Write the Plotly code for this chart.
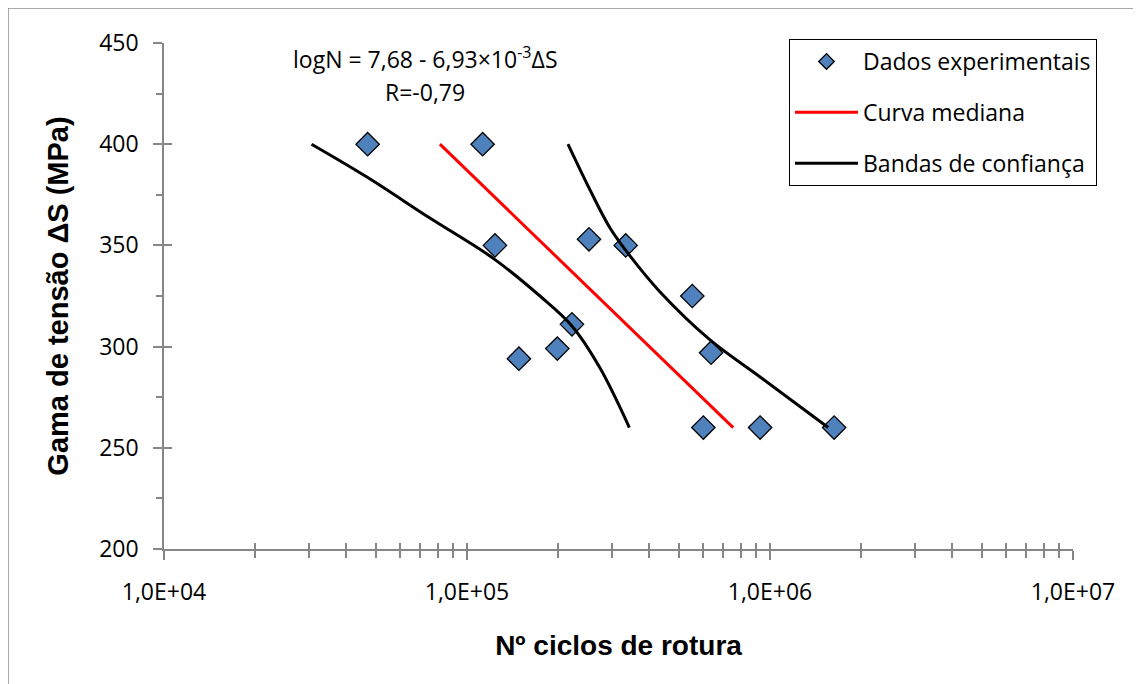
import plotly.graph_objects as go

# ---------------- data ----------------
N_exp = [47000, 112600, 123700, 148400, 198600, 222000, 252700, 334100,
         554000, 639000, 602600, 927500, 1628000]
S_exp = [400, 400, 350, 294, 299, 311, 353, 350, 325, 297, 260, 260, 260]

N_median = [81400, 756000]
S_median = [400, 260]

N_band_low = [30680, 46610, 75430, 122050, 174100, 222000, 274800, 343400]
S_band_low = [400, 383.9, 363.5, 343.6, 325, 310.2, 289.4, 260]

N_band_high = [215400, 254600, 296500, 345100, 433700, 634200, 927500, 1556000]
S_band_high = [400, 377.4, 358.6, 344.8, 327, 303.3, 285, 260]

x_tickvals = [1e4, 1e5, 1e6, 1e7]
x_ticktext = ["1,0E+04", "1,0E+05", "1,0E+06", "1,0E+07"]
y_tickvals = [200, 250, 300, 350, 400, 450]

equation_text = "logN = 7,68 - 6,93×10<sup>-3</sup>ΔS"
r_text = "R=-0,79"

# ---------------- layout constants ----------------
OFF = 8                      # default body margin of the html page
W, H = 1141 - OFF, 684 - OFF
ML, MR, MT, MB = 164 - OFF, 68, 43 - OFF, 135
PW, PH = W - ML - MR, H - MT - MB

REG = "Open Sans, DejaVu Sans, sans-serif"
BOLD = "Liberation Sans, Arial, sans-serif"
AX = "#868686"


def px_x(p):                 # page pixel -> paper fraction
    return (p - OFF - ML) / PW


def px_y(p):
    return (H - MB - (p - OFF)) / PH


fig = go.Figure()

fig.add_trace(go.Scatter(
    x=N_exp, y=S_exp, mode="markers", name="Dados experimentais",
    legendgroup="a", showlegend=False,
    marker=dict(symbol="diamond", size=18, color="#4F81BD",
                line=dict(color="black", width=1.3)),
))
# legend proxy with the smaller legend symbol
fig.add_trace(go.Scatter(
    x=[None], y=[None], mode="markers", name="Dados experimentais",
    legendgroup="a", hoverinfo="skip",
    marker=dict(symbol="diamond", size=12, color="#4F81BD",
                line=dict(color="black", width=1.3)),
))
fig.add_trace(go.Scatter(
    x=N_median, y=S_median, mode="lines", name="Curva mediana",
    legendgroup="b",
    line=dict(color="#FF0000", width=3),
))
fig.add_trace(go.Scatter(
    x=N_band_low, y=S_band_low, mode="lines", name="Bandas de confiança",
    legendgroup="c",
    line=dict(color="black", width=3, shape="spline"),
))
fig.add_trace(go.Scatter(
    x=N_band_high, y=S_band_high, mode="lines", name="Bandas de confiança",
    legendgroup="c", showlegend=False,
    line=dict(color="black", width=3, shape="spline"),
))
# empty trace to activate the overlay axes (inner half of crossing ticks)
fig.add_trace(go.Scatter(x=[None], y=[None], xaxis="x2", yaxis="y2",
                         showlegend=False, hoverinfo="skip"))

fig.update_layout(
    width=W, height=H,
    margin=dict(l=ML, r=MR, t=MT, b=MB, autoexpand=False),
    paper_bgcolor="white", plot_bgcolor="white",
    font=dict(family=REG, size=23, color="black"),
    showlegend=True,
    legend=dict(
        x=px_x(789), y=px_y(39), xanchor="left", yanchor="top",
        bordercolor="black", borderwidth=1, bgcolor="white",
        font=dict(family=REG, size=23, color="black"),
        traceorder="grouped", tracegroupgap=18,
        itemsizing="trace", itemwidth=63,
    ),
    xaxis=dict(
        type="log", range=[4, 7], showgrid=False, zeroline=False,
        showline=True, linecolor=AX, linewidth=1.5,
        tickvals=x_tickvals, ticktext=x_ticktext,
        ticks="outside", ticklen=9, tickwidth=1.5, tickcolor=AX,
        ticklabelstandoff=13,
        tickfont=dict(family=REG, size=23, color="black"),
        minor=dict(ticks="outside", ticklen=7, tickwidth=1.5, tickcolor=AX,
                   dtick="D1", showgrid=False),
        title=dict(text="<b>Nº ciclos de rotura</b>", standoff=29,
                   font=dict(family=BOLD, size=28, color="black")),
    ),
    xaxis2=dict(
        type="log", range=[4, 7], overlaying="x", anchor="y", side="bottom",
        showgrid=False, zeroline=False, showline=False, showticklabels=False,
        tickvals=x_tickvals, ticks="inside", ticklen=6, tickwidth=1.5,
        tickcolor=AX,
        minor=dict(ticks="inside", ticklen=6, tickwidth=1.5, tickcolor=AX,
                   dtick="D1", showgrid=False),
    ),
    yaxis=dict(
        range=[200, 450], showgrid=False, zeroline=False,
        showline=True, linecolor=AX, linewidth=1.5,
        tickvals=y_tickvals,
        ticks="outside", ticklen=9, tickwidth=1.5, tickcolor=AX,
        ticklabelstandoff=10,
        tickfont=dict(family=REG, size=23, color="black"),
        minor=dict(ticks="outside", ticklen=6, tickwidth=1.5, tickcolor=AX,
                   dtick=25, showgrid=False),
        title=dict(text="<b>Gama de tensão ΔS (MPa)</b>", standoff=22,
                   font=dict(family=BOLD, size=29, color="black")),
    ),
    yaxis2=dict(
        range=[200, 450], overlaying="y", anchor="x", side="left",
        showgrid=False, zeroline=False, showline=False, showticklabels=False,
        tickvals=y_tickvals, ticks="inside", ticklen=8, tickwidth=1.5,
        tickcolor=AX,
    ),
    annotations=[
        dict(text=equation_text, xref="paper", yref="paper",
             x=px_x(425), y=px_y(58), xanchor="center", yanchor="middle",
             showarrow=False, font=dict(family=REG, size=23, color="black")),
        dict(text=r_text, xref="paper", yref="paper",
             x=px_x(425), y=px_y(92), xanchor="center", yanchor="middle",
             showarrow=False, font=dict(family=REG, size=23, color="black")),
    ],
    shapes=[
        dict(type="rect", xref="paper", yref="paper",
             x0=px_x(7.5), x1=px_x(1140), y0=px_y(7.5), y1=px_y(700),
             line=dict(color="#8c8c8c", width=2.5), fillcolor="rgba(0,0,0,0)",
             layer="below"),
    ],
)

fig.write_html("out.html")
